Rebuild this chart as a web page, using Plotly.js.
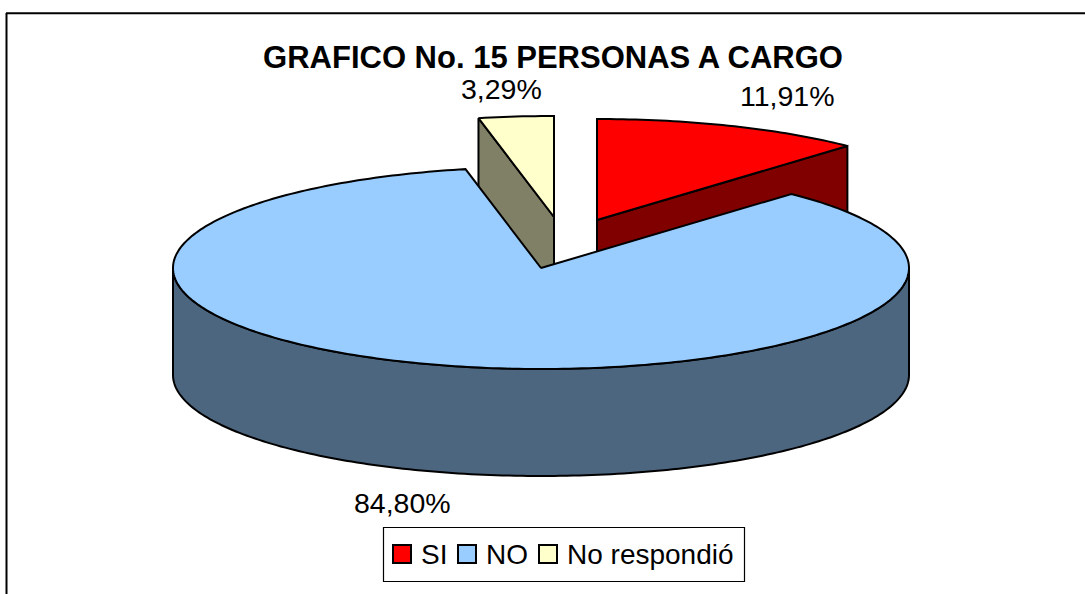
<!DOCTYPE html>
<html>
<head>
<meta charset="utf-8">
<script src="https://cdn.plot.ly/plotly-3.0.1.min.js"></script>
<style>html,body{margin:0;padding:0;background:#fff}#chart{width:1085px;height:594px}</style>
</head>
<body>
<div id="chart"></div>
<script>
// Data
const categories = ['SI', 'NO', 'No respondió'];
const percentages = [11.91, 84.80, 3.29];
const topColors = ['#FF0000', '#99CCFF', '#FFFFCC'];
const sideColors = ['#800000', '#4D6680', '#808066'];
const chartTitle = 'GRAFICO No. 15 PERSONAS A CARGO';

// Projection of the tilted pie, in axis units (axes span the page)
const cx = 541, cy = 268, rx = 368, ry = 101, depth = 107;
const explodeX = [56, 0, 13];
const explodeY = [-48, 0, -51];
const labelX = [787, 402, 501];
const labelY = [96, 503, 89];
// Key placement
const keyX = [402, 467, 548];
const keyTextX = [420, 485, 566];
const keyY = 554;
const INK = '#000000', LW = 2;
const FONT = '"Liberation Sans", Arial, sans-serif';

const total = percentages.reduce((a, b) => a + b, 0);
const rim = (deg, i, drop) => [
  cx + explodeX[i] + rx * Math.sin(deg * Math.PI / 180),
  cy + explodeY[i] + (drop || 0) - ry * Math.cos(deg * Math.PI / 180)
];
const poly = (pts, color) => ({
  type: 'scatter', mode: 'lines', x: pts.map(p => p[0]), y: pts.map(p => p[1]),
  fill: 'toself', fillcolor: color, line: {color: INK, width: LW, simplify: false},
  hoverinfo: 'skip', showlegend: false
});

const starts = [], ends = [];
let acc = 0;
percentages.forEach((v, i) => { starts[i] = acc; acc += v / total * 360; ends[i] = acc; });
const arc = (a, b, i, drop) => {
  const n = Math.max(2, Math.ceil(Math.abs(b - a)));
  const out = [];
  for (let k = 0; k <= n; k++) out.push(rim(a + (b - a) * k / n, i, drop));
  return out;
};
const apex = (i, drop) => [cx + explodeX[i], cy + explodeY[i] + (drop || 0)];

const traces = [];
// cut faces of the detached slices, behind the large slice
traces.push(poly([apex(0), rim(ends[0], 0), rim(ends[0], 0, depth), apex(0, depth), apex(0)], sideColors[0]));
traces.push(poly([rim(starts[2], 2), apex(2), apex(2, depth), rim(starts[2], 2, depth), rim(starts[2], 2)], sideColors[2]));
// outer wall of the large slice (front half of the rim)
traces.push(poly(arc(90, 270, 1).concat(arc(270, 90, 1, depth), [rim(90, 1)]), sideColors[1]));
// top faces
[0, 1, 2].forEach(i => {
  traces.push(poly([apex(i)].concat(arc(starts[i], ends[i], i), [apex(i)]), topColors[i]));
});
// key swatches
traces.push({
  type: 'scatter', mode: 'markers', x: keyX, y: categories.map(() => keyY), hoverinfo: 'skip', showlegend: false,
  marker: {symbol: 'square', size: 18, color: topColors, line: {color: INK, width: 2}}
});

const fmt = v => v.toFixed(2).replace('.', ',') + '%';
const layout = {
  width: 1085, height: 594, margin: {l: 0, r: 0, t: 0, b: 0},
  paper_bgcolor: '#ffffff', plot_bgcolor: '#ffffff',
  font: {family: FONT, color: '#000000'},
  title: {text: '<b>' + chartTitle + '</b>', x: 553 / 1085, xanchor: 'center', y: 1 - 57 / 594, yanchor: 'middle',
    font: {size: 31, family: FONT, color: '#000000'}},
  xaxis: {range: [0, 1085], visible: false, fixedrange: true},
  yaxis: {range: [594, 0], visible: false, fixedrange: true},
  hovermode: false,
  showlegend: false,
  shapes: [
    {type: 'line', xref: 'x', yref: 'y', x0: 6.5, x1: 6.5, y0: 13, y1: 594, line: {color: '#000', width: 2}},
    {type: 'line', xref: 'x', yref: 'y', x0: 6, x1: 1085, y0: 13.2, y1: 13.2, line: {color: '#000', width: 2}},
    {type: 'rect', layer: 'below', xref: 'x', yref: 'y', x0: 383.5, x1: 744.5, y0: 527.5, y1: 581.5,
      fillcolor: '#ffffff', line: {color: '#000', width: 1.2}}
  ],
  annotations: categories.map((c, i) => ({
    text: fmt(percentages[i]), x: labelX[i], y: labelY[i], xref: 'x', yref: 'y',
    showarrow: false, xanchor: 'center', yanchor: 'middle',
    font: {size: 28.5, family: FONT, color: '#000000'}
  })).concat(categories.map((c, i) => ({
    text: c, x: keyTextX[i], y: keyY, xref: 'x', yref: 'y',
    showarrow: false, xanchor: 'left', yanchor: 'middle', xshift: -1,
    font: {size: 28, family: FONT, color: '#000000'}
  })))
};
Plotly.newPlot('chart', traces, layout, {displayModeBar: false, staticPlot: true});
</script>
</body>
</html>
